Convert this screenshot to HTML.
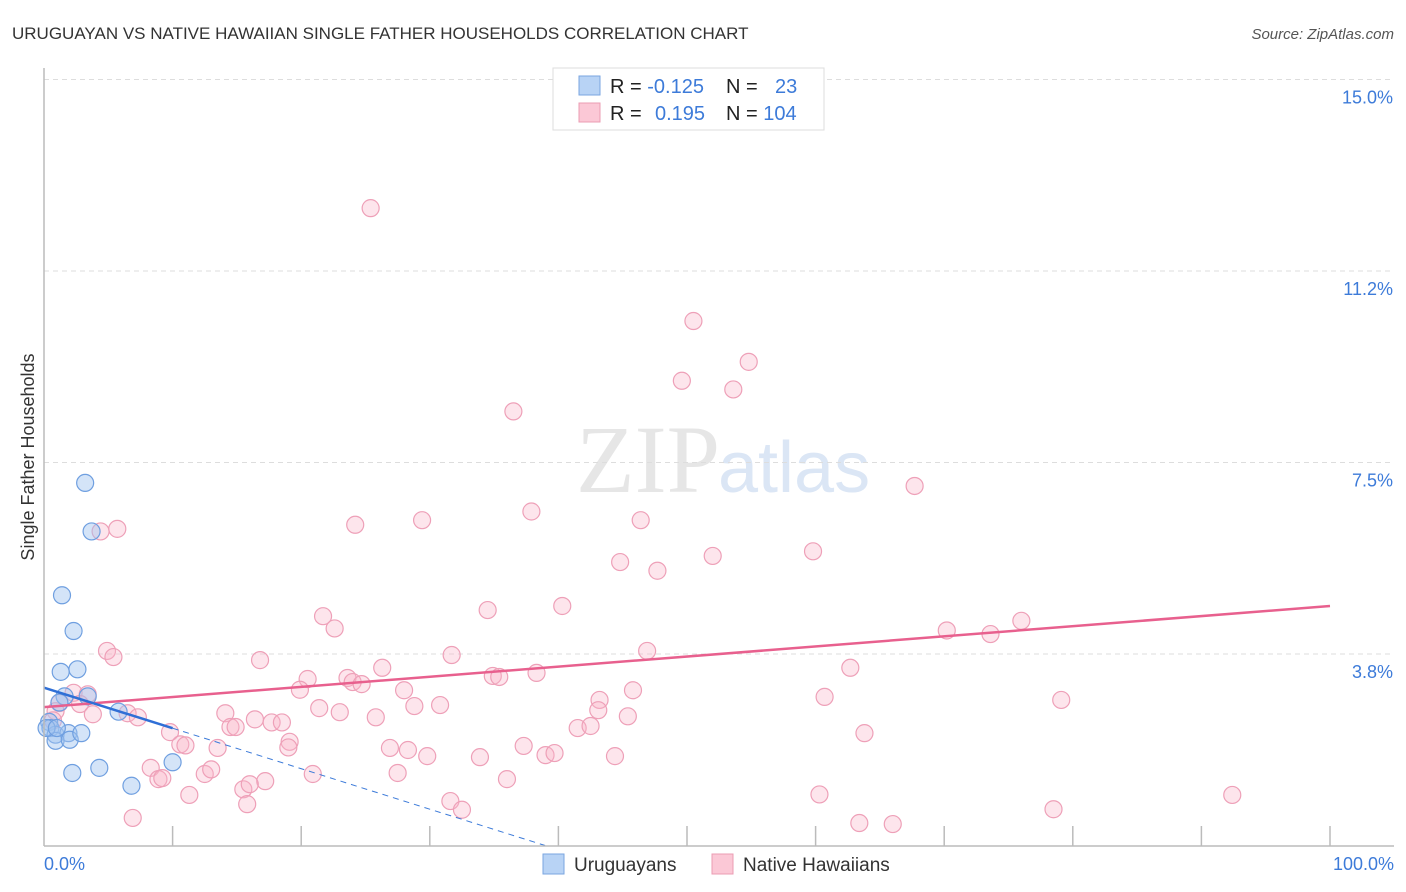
<!DOCTYPE html>
<html><head><meta charset="utf-8"><style>
body{margin:0;background:#fff;font-family:"Liberation Sans",sans-serif;}
#wrap{position:relative;width:1406px;height:892px;overflow:hidden;}
</style></head><body>
<div id="wrap">
<svg id="svg" width="1406" height="892" xmlns="http://www.w3.org/2000/svg">
<text x="12" y="39" font-size="17" fill="#333">URUGUAYAN VS NATIVE HAWAIIAN SINGLE FATHER HOUSEHOLDS CORRELATION CHART</text>
<text x="1394" y="39" font-size="15" fill="#555" font-style="italic" text-anchor="end">Source: ZipAtlas.com</text>
<text x="720" y="492" font-size="96" fill="#e6e6e6" text-anchor="end" font-family="Liberation Serif,serif">ZIP</text>
<text x="718" y="492" font-size="72" fill="#dbe6f5">atlas</text>
<text transform="translate(34,457) rotate(-90)" font-size="18" fill="#333" text-anchor="middle">Single Father Households</text>
<g id="grid"></g><g id="pts"></g><g id="lines"></g>
<line x1="44" y1="68" x2="44" y2="846" stroke="#bbb" stroke-width="1.5"/>
<line x1="44" y1="846" x2="1394" y2="846" stroke="#bbb" stroke-width="1.5"/>
<text x="44" y="870" font-size="18" fill="#3d7bd9">0.0%</text>
<text x="1394" y="870" font-size="18" fill="#3d7bd9" text-anchor="end">100.0%</text>
<g>
<rect x="553" y="68" width="271" height="62" fill="#fff" stroke="#ddd"/>
<rect x="579" y="76" width="21" height="19" fill="#b8d3f5" stroke="#7aa6e0"/>
<rect x="579" y="103" width="21" height="19" fill="#fbc8d6" stroke="#eb9cb3"/>
<text x="610" y="93" font-size="20" fill="#222">R = <tspan fill="#3d7bd9">-0.125</tspan></text>
<text x="726" y="93" font-size="20" fill="#222">N = <tspan fill="#3d7bd9" x="775">23</tspan></text>
<text x="610" y="120" font-size="20" fill="#222">R = <tspan fill="#3d7bd9" x="655">0.195</tspan></text>
<text x="726" y="120" font-size="20" fill="#222">N = <tspan fill="#3d7bd9">104</tspan></text>
</g>
<g>
<rect x="543" y="854" width="21" height="20" fill="#b8d3f5" stroke="#7aa6e0"/>
<text x="574" y="871" font-size="19" fill="#333">Uruguayans</text>
<rect x="712" y="854" width="21" height="20" fill="#fbc8d6" stroke="#eb9cb3"/>
<text x="743" y="871" font-size="19" fill="#333">Native Hawaiians</text>
</g>
</svg>
</div>
<script>
const yTicks=[3.75,7.5,11.25,15.0];
const yTickLabels=["3.8%","7.5%","11.2%","15.0%"];
const xTicks=[10,20,30,40,50,60,70,80,90,100];
const blueX=[3.2,3.7,1.4,2.3,1.3,2.6,1.6,3.4,1.2,5.8,0.4,0.5,0.9,1.9,0.9,2.0,2.9,4.3,2.2,6.8,10.0,0.2,1.0];
const blueY=[7.1,6.15,4.9,4.2,3.4,3.45,2.92,2.92,2.8,2.62,2.42,2.3,2.17,2.2,2.05,2.07,2.2,1.52,1.42,1.17,1.63,2.3,2.3];
const pinkX=[25.4,50.5,54.8,49.6,53.6,36.5,67.7,4.4,5.7,24.2,29.4,37.9,46.4,52.0,59.8,44.8,47.7,40.3,34.5,21.7,22.6,76.0,70.2,73.6,4.9,5.4,16.8,31.7,46.9,26.3,62.7,20.5,23.6,24.0,24.7,34.9,35.4,38.3,19.9,28.0,45.8,60.7,79.1,2.3,3.4,1.2,2.8,3.8,6.5,7.3,0.9,0.7,14.1,16.4,17.7,18.5,21.4,23.0,25.8,28.8,30.8,43.2,43.1,45.4,14.5,14.9,9.8,10.6,11.0,41.5,42.5,63.8,13.5,19.1,19.0,26.9,28.3,29.8,33.9,37.3,39.0,39.7,44.4,8.3,8.9,9.2,12.5,13.0,15.5,17.2,20.9,27.5,36.0,11.3,15.8,31.6,32.5,60.3,78.5,92.4,6.9,63.4,66.0,16.0];
const pinkY=[12.48,10.27,9.47,9.1,8.93,8.5,7.04,6.15,6.2,6.28,6.37,6.54,6.37,5.67,5.76,5.55,5.38,4.69,4.61,4.49,4.25,4.4,4.21,4.14,3.81,3.69,3.63,3.73,3.81,3.48,3.48,3.26,3.28,3.2,3.16,3.32,3.3,3.38,3.05,3.04,3.04,2.91,2.85,2.99,2.96,2.79,2.77,2.57,2.59,2.51,2.63,2.45,2.59,2.47,2.41,2.41,2.69,2.61,2.51,2.73,2.75,2.85,2.65,2.53,2.32,2.32,2.22,1.98,1.96,2.3,2.34,2.2,1.91,2.03,1.92,1.91,1.87,1.75,1.73,1.95,1.77,1.81,1.75,1.52,1.3,1.32,1.4,1.49,1.1,1.26,1.4,1.42,1.3,0.99,0.81,0.87,0.7,1.0,0.71,0.99,0.54,0.44,0.42,1.2];
const blueFit=[3.09,-0.0793];
const pinkFit=[2.71,0.0198];
const ns="http://www.w3.org/2000/svg";
const X=v=>44+v*12.86, Y=v=>845.5-v*51.07;
function mk(t,a,p){const e=document.createElementNS(ns,t);for(const k in a)e.setAttribute(k,a[k]);p.appendChild(e);return e;}
const grid=document.getElementById('grid'),pts=document.getElementById('pts'),lines=document.getElementById('lines');
yTicks.forEach((v,i)=>{
 const l=mk('line',{x1:44,x2:1394,y1:Y(v),y2:Y(v),stroke:'#ddd','stroke-dasharray':'5,4'},grid);
 
 
 const t=mk('text',{x:1393,y:Y(v)+24,'font-size':18,fill:'#3d7bd9','text-anchor':'end'},grid);
 t.textContent=yTickLabels[i];
 
 
});
xTicks.forEach(v=>{
 const l=mk('line',{x1:X(v),x2:X(v),y1:826,y2:846,stroke:'#bbb','stroke-width':1.5},grid);
 
 
});
pinkX.forEach((x,i)=>{
 const c=mk('circle',{cx:X(x),cy:Y(pinkY[i]),r:8.5,fill:'rgba(248,180,200,0.35)',stroke:'#eea0b8','stroke-width':1.2},pts);
 
 
});
blueX.forEach((x,i)=>{
 const c=mk('circle',{cx:X(x),cy:Y(blueY[i]),r:8.5,fill:'rgba(160,196,240,0.45)',stroke:'#6f9fe0','stroke-width':1.2},pts);
 
 
});
const pl=mk('line',{x1:X(0),y1:Y(pinkFit[0]),x2:X(100),y2:Y(pinkFit[0]+100*pinkFit[1]),stroke:'#e8608e','stroke-width':2.5},lines);


const x0=-blueFit[0]/blueFit[1];
const bd=mk('line',{x1:X(10),y1:Y(blueFit[0]+10*blueFit[1]),x2:X(x0),y2:Y(0),stroke:'#3d7bd9','stroke-width':1,'stroke-dasharray':'6,5'},lines);


const bl=mk('line',{x1:X(0),y1:Y(blueFit[0]),x2:X(10),y2:Y(blueFit[0]+10*blueFit[1]),stroke:'#2f6fd6','stroke-width':2.5},lines);


</script>
</body></html>
